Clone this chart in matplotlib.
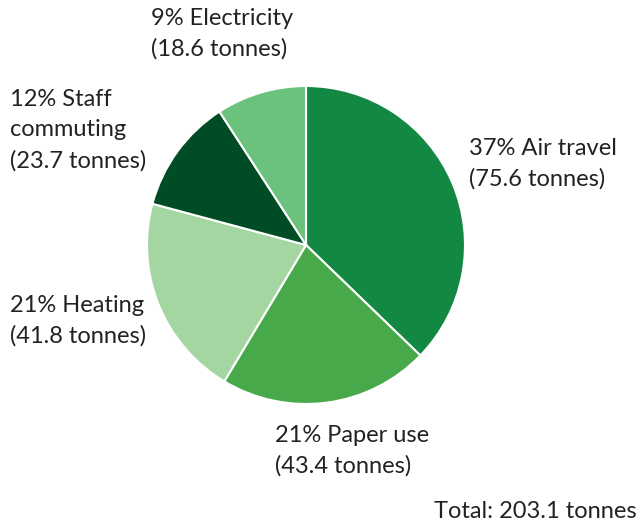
import matplotlib.pyplot as plt

# emissions by source (tonnes), clockwise from 12 o'clock
sources = ["Air travel", "Paper use", "Heating", "Staff commuting", "Electricity"]
tonnes = [75.6, 43.4, 41.8, 23.7, 18.6]
percents = [37, 21, 21, 12, 9]
colors = ["#138843", "#48a94b", "#a3d6a1", "#004d25", "#6ac27c"]
total = 203.1

plt.rcParams['font.family'] = ['Lato', 'DejaVu Sans']

W, H = 641, 527
fig = plt.figure(figsize=(W / 100, H / 100), dpi=100)
ax = fig.add_axes([0, 0, 1, 1])

ax.pie(tonnes, colors=colors, startangle=90, counterclock=False,
       center=(306, H - 245), radius=159,
       wedgeprops=dict(edgecolor='white', linewidth=1.5))
ax.set_xlim(0, W)
ax.set_ylim(0, H)
ax.set_aspect('equal')
ax.axis('off')

# label blocks: (left x, vertical centre of block) in pixels from top-left
label_pos = {
    "Air travel": (469, 164),
    "Paper use": (275, 451),
    "Heating": (10, 321),
    "Staff commuting": (10, 130),
    "Electricity": (151, 34),
}
for name, t, p in zip(sources, tonnes, percents):
    x, y = label_pos[name]
    if name == "Staff commuting":
        txt = f"{p}% Staff\ncommuting\n({t} tonnes)"
    else:
        txt = f"{p}% {name}\n({t} tonnes)"
    ax.text(x, H - y, txt, ha='left', va='center', fontsize=17,
            color='#222222', linespacing=1.55)

ax.text(637, H - 512, f"Total: {total} tonnes", ha='right', va='center',
        fontsize=17, color='#222222')

fig.savefig("out.png", dpi=100)
